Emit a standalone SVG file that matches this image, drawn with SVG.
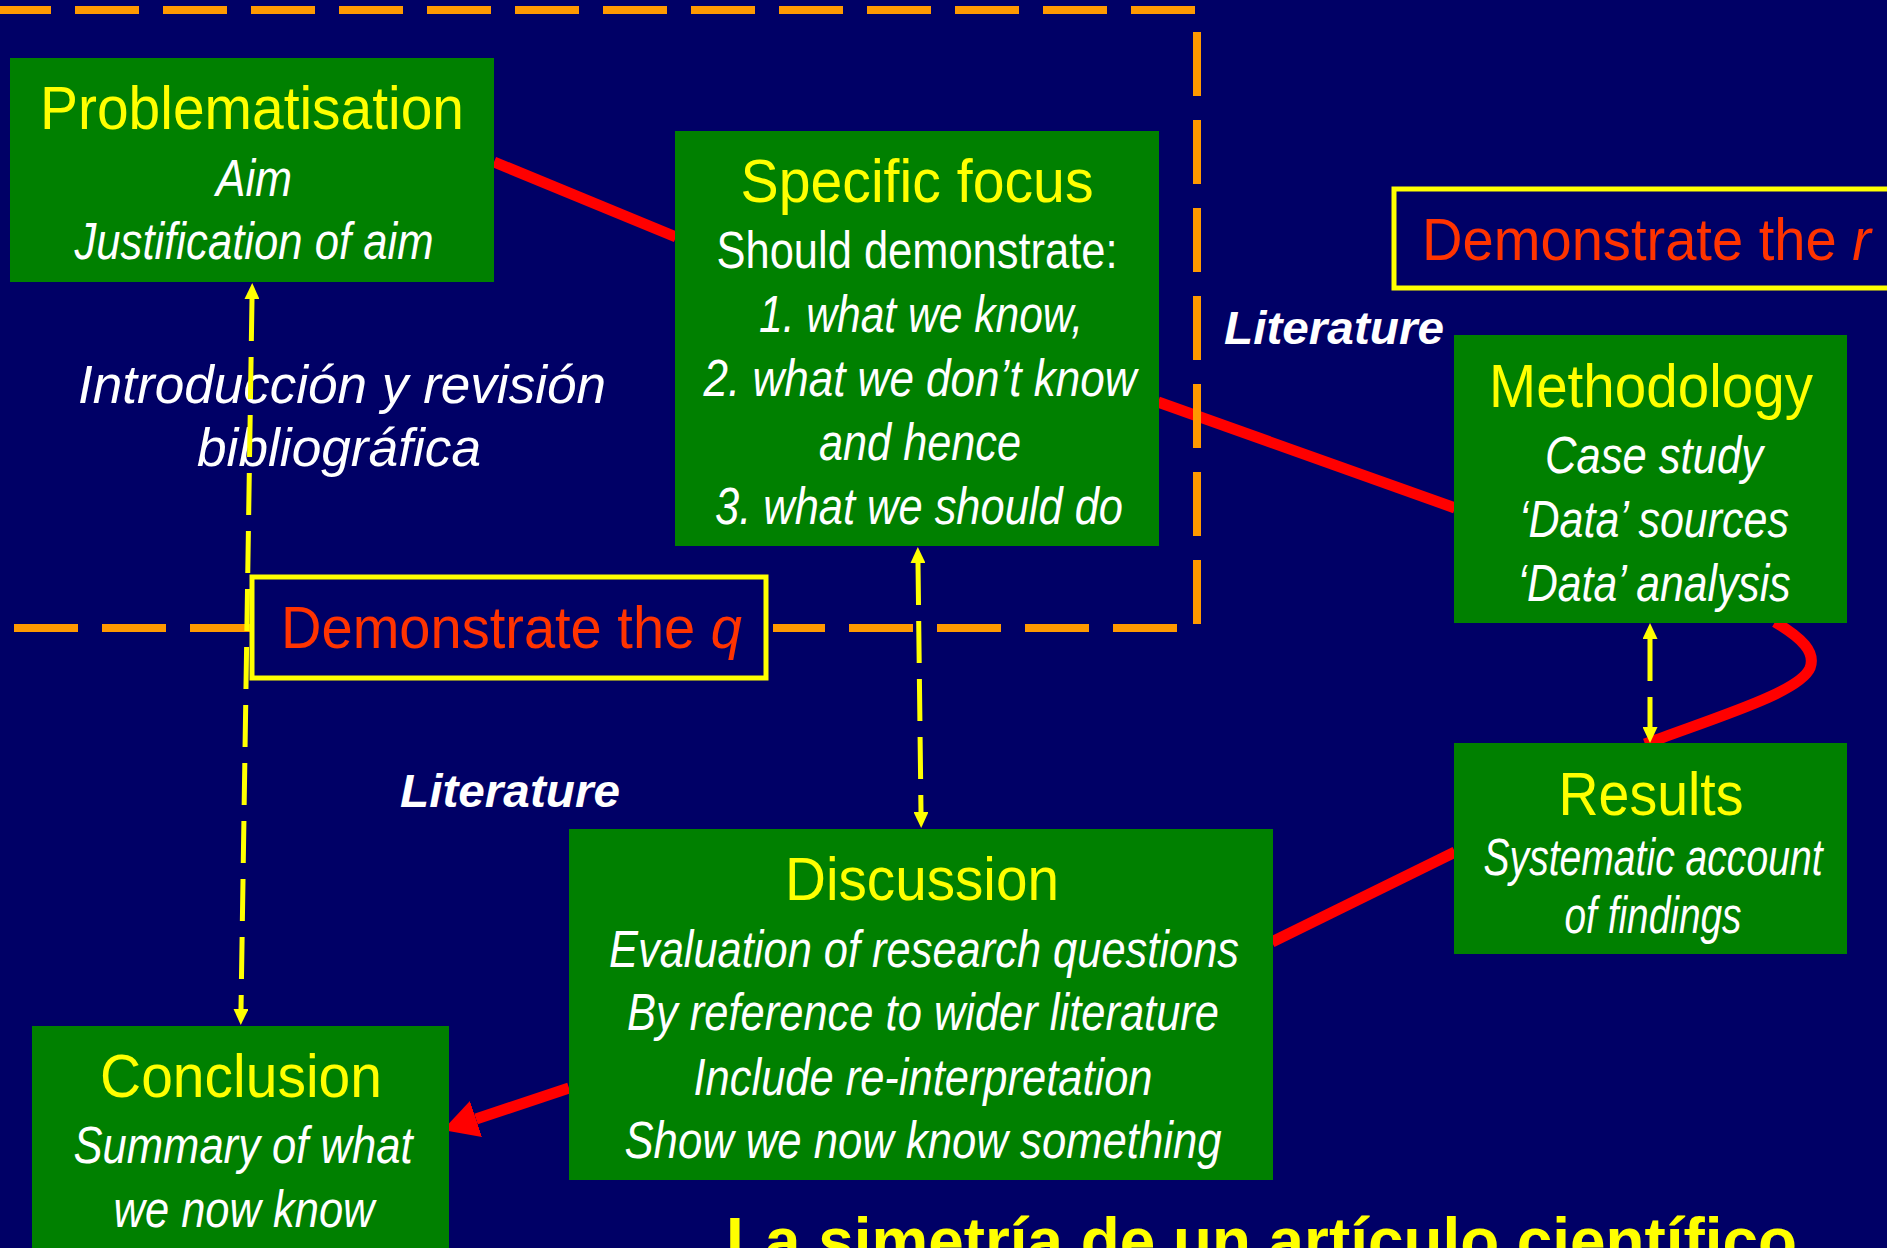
<svg xmlns="http://www.w3.org/2000/svg" width="1887" height="1248" viewBox="0 0 1887 1248">
<style>
.bg{fill:#000066}
.box{fill:#008000}
.t{font-family:"Liberation Sans Narrow","Liberation Sans",Arial,sans-serif;fill:#FFFF00;font-size:62px;text-anchor:middle}
.b{font-family:"Liberation Sans Narrow","Liberation Sans",Arial,sans-serif;fill:#FFFFFF;font-size:52px;font-style:italic;text-anchor:middle}
.up{font-style:normal}
.od{stroke:#FF9900;stroke-width:8;fill:none;stroke-dasharray:64 24}
.red{stroke:#FF0000;stroke-width:11;fill:none}
.yd{stroke:#FFFF00;stroke-width:5;fill:none;stroke-dasharray:42 16;marker-start:url(#ya);marker-end:url(#ya)}
.dem{fill:#000066;stroke:#FFFF00;stroke-width:5}
.demt{font-family:"Liberation Sans Narrow","Liberation Sans",Arial,sans-serif;fill:#FF3300;font-size:60px}
.lit{font-family:"Liberation Sans",Arial,sans-serif;fill:#FFFFFF;font-size:47px;font-style:italic;font-weight:bold}
.intro{font-family:"Liberation Sans",Arial,sans-serif;fill:#FFFFFF;font-size:53px;font-style:italic;text-anchor:middle}
.title{font-family:"Liberation Sans",Arial,sans-serif;fill:#FFFF00;font-size:64px;font-weight:bold}
</style>
<defs>
<marker id="ya" viewBox="0 0 16 15" refX="0" refY="7.5" markerWidth="16" markerHeight="15" markerUnits="userSpaceOnUse" orient="auto-start-reverse"><path d="M0,0 L16,7.5 L0,15 z" fill="#FFFF00"/></marker>
<marker id="ra" viewBox="0 0 35 38" refX="0" refY="19" markerWidth="35" markerHeight="38" markerUnits="userSpaceOnUse" orient="auto"><path d="M0,0 L35,19 L0,38 z" fill="#FF0000"/></marker>
</defs>
<rect class="bg" x="0" y="0" width="1887" height="1248"/>

<g id="connectors">
<line class="red" x1="494" y1="162" x2="676" y2="237"/>
<line class="red" x1="1158" y1="402" x2="1455" y2="508"/>
<path class="red" d="M1775,622 C1802,638 1816,652 1810,668 C1800,692 1720,716 1645,744"/>
<line class="red" x1="1272" y1="942" x2="1455" y2="852"/>
<line class="red" x1="569" y1="1088" x2="476" y2="1119" marker-end="url(#ra)"/>
</g>

<g id="section-frame">
<line class="od" x1="0" y1="10" x2="1197" y2="10" stroke-dashoffset="13"/>
<line class="od" x1="1197" y1="32" x2="1197" y2="627"/>
<line class="od" x1="14" y1="628" x2="252" y2="628"/>
<line class="od" x1="1177" y1="628" x2="773" y2="628"/>
</g>

<g id="problematisation">
<rect class="box" x="10" y="58" width="484" height="224"/>
<text class="t" x="252" y="129" textLength="424" lengthAdjust="spacingAndGlyphs">Problematisation</text>
<text class="b" x="254" y="196" textLength="76" lengthAdjust="spacingAndGlyphs">Aim</text>
<text class="b" x="254" y="259" textLength="359" lengthAdjust="spacingAndGlyphs">Justification of aim</text>
</g>

<g id="specific-focus">
<rect class="box" x="675" y="131" width="484" height="415"/>
<text class="t" x="917" y="202" textLength="353" lengthAdjust="spacingAndGlyphs">Specific focus</text>
<text class="b up" x="917" y="268" textLength="401" lengthAdjust="spacingAndGlyphs">Should demonstrate:</text>
<text class="b" x="921" y="332" textLength="324" lengthAdjust="spacingAndGlyphs">1. what we know,</text>
<text class="b" x="920" y="396" textLength="433" lengthAdjust="spacingAndGlyphs">2. what we don’t know</text>
<text class="b" x="920" y="460" textLength="202" lengthAdjust="spacingAndGlyphs">and hence</text>
<text class="b" x="919" y="524" textLength="408" lengthAdjust="spacingAndGlyphs">3. what we should do</text>
</g>

<g id="methodology">
<rect class="box" x="1454" y="335" width="393" height="288"/>
<text class="t" x="1651" y="407" textLength="324" lengthAdjust="spacingAndGlyphs">Methodology</text>
<text class="b" x="1654" y="473" textLength="218" lengthAdjust="spacingAndGlyphs">Case study</text>
<text class="b" x="1654" y="537" textLength="270" lengthAdjust="spacingAndGlyphs">‘Data’ sources</text>
<text class="b" x="1654" y="601" textLength="273" lengthAdjust="spacingAndGlyphs">‘Data’ analysis</text>
</g>

<g id="results">
<rect class="box" x="1454" y="743" width="393" height="211"/>
<text class="t" x="1651" y="815" textLength="185" lengthAdjust="spacingAndGlyphs">Results</text>
<text class="b" x="1653" y="875" textLength="339" lengthAdjust="spacingAndGlyphs">Systematic account</text>
<text class="b" x="1653" y="933" textLength="177" lengthAdjust="spacingAndGlyphs">of findings</text>
</g>

<g id="discussion">
<rect class="box" x="569" y="829" width="704" height="351"/>
<text class="t" x="922" y="900" textLength="274" lengthAdjust="spacingAndGlyphs">Discussion</text>
<text class="b" x="924" y="967" textLength="630" lengthAdjust="spacingAndGlyphs">Evaluation of research questions</text>
<text class="b" x="923" y="1030" textLength="592" lengthAdjust="spacingAndGlyphs">By reference to wider literature</text>
<text class="b" x="923" y="1095" textLength="459" lengthAdjust="spacingAndGlyphs">Include re-interpretation</text>
<text class="b" x="923" y="1158" textLength="597" lengthAdjust="spacingAndGlyphs">Show we now know something</text>
</g>

<g id="conclusion">
<rect class="box" x="32" y="1026" width="417" height="230"/>
<text class="t" x="241" y="1097" textLength="282" lengthAdjust="spacingAndGlyphs">Conclusion</text>
<text class="b" x="243" y="1163" textLength="339" lengthAdjust="spacingAndGlyphs">Summary of what</text>
<text class="b" x="244" y="1227" textLength="261" lengthAdjust="spacingAndGlyphs">we now know</text>
</g>

<g id="intro-label">
<text class="intro" x="342" y="403" textLength="528" lengthAdjust="spacingAndGlyphs">Introducción y revisión</text>
<text class="intro" x="339" y="466" textLength="284" lengthAdjust="spacingAndGlyphs">bibliográfica</text>
</g>

<g id="yellow-links">
<line class="yd" x1="252" y1="299" x2="241" y2="1009"/>
<line class="yd" x1="918" y1="563" x2="921" y2="812"/>
<line class="yd" x1="1650" y1="639" x2="1650" y2="727"/>
</g>

<g id="demonstrate-q">
<rect class="dem" x="252" y="577" width="514" height="101"/>
<text class="demt" x="281" y="648" textLength="461" lengthAdjust="spacingAndGlyphs">Demonstrate the <tspan font-style="italic">q</tspan></text>
</g>

<g id="demonstrate-r">
<rect class="dem" x="1394" y="189" width="520" height="99"/>
<text class="demt" x="1422" y="260" textLength="449" lengthAdjust="spacingAndGlyphs">Demonstrate the <tspan font-style="italic">r</tspan></text>
</g>

<g id="literature-labels">
<text class="lit" x="1224" y="344" textLength="220" lengthAdjust="spacingAndGlyphs">Literature</text>
<text class="lit" x="400" y="807" textLength="220" lengthAdjust="spacingAndGlyphs">Literature</text>
</g>

<g id="title">
<text class="title" x="726" y="1263" textLength="1071" lengthAdjust="spacingAndGlyphs">La simetría de un artículo científico</text>
</g>
</svg>
